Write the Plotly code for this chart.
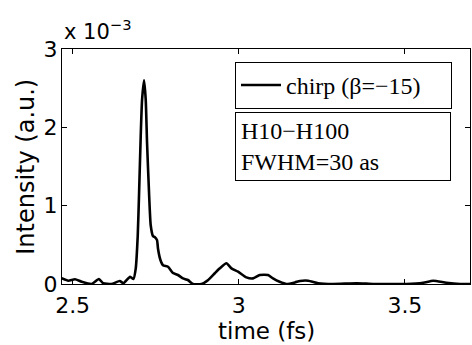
import plotly.graph_objects as go

# time axis (fs)
time_fs = [2.467, 2.487, 2.507, 2.527, 2.557, 2.579, 2.592, 2.617, 2.642, 2.653,
           2.673, 2.683, 2.690, 2.696, 2.700, 2.705, 2.709, 2.715, 2.720, 2.724,
           2.730, 2.735, 2.742, 2.747, 2.754, 2.757, 2.764, 2.772, 2.787, 2.802,
           2.817, 2.832, 2.847, 2.862, 2.888, 2.908, 2.928, 2.943, 2.963, 2.978,
           2.998, 3.023, 3.043, 3.063, 3.088, 3.103, 3.123, 3.144, 3.169, 3.184,
           3.209, 3.239, 3.284, 3.355, 3.405, 3.455, 3.505, 3.555, 3.585, 3.625,
           3.666, 3.696]
# intensity in units of 1e-3 (a.u.)
intensity_e3 = [0.073, 0.042, 0.060, 0.029, 0.000, 0.064, 0.010, 0.000, 0.038, 0.010,
                0.093, 0.064, 0.200, 0.620, 1.160, 1.900, 2.350, 2.600, 2.350, 1.800,
                1.160, 0.750, 0.610, 0.600, 0.560, 0.450, 0.310, 0.240, 0.220, 0.140,
                0.115, 0.072, 0.051, 0.000, 0.000, 0.051, 0.137, 0.200, 0.264, 0.200,
                0.157, 0.085, 0.072, 0.115, 0.115, 0.072, 0.029, 0.000, 0.020, 0.038,
                0.042, 0.010, 0.000, 0.010, 0.000, 0.000, 0.000, 0.016, 0.042, 0.016,
                0.000, 0.000]

x_ticks = [2.5, 3, 3.5]
x_tick_labels = ["2.5", "3", "3.5"]
y_ticks = [0, 1, 2, 3]
y_tick_labels = ["0", "1", "2", "3"]

series_name = "chirp (\u03b2=\u221215)"
info_text = "H10\u2212H100<br>FWHM=30 as"
x_title = "time (fs)"
y_title = "Intensity (a.u.)"
exponent_text = "x 10<sup>\u22123</sup>"

SANS = "DejaVu Sans, Arial, sans-serif"
SERIF = "Liberation Serif, Times New Roman, serif"

fig = go.Figure()
fig.add_trace(go.Scatter(
    x=time_fs, y=intensity_e3, mode="lines", name=series_name,
    line=dict(color="black", width=2.6, shape="spline", smoothing=0.5),
))

axis_common = dict(
    showline=True, linecolor="black", linewidth=1, mirror="ticks",
    ticks="inside", ticklen=5, tickcolor="black", tickwidth=1,
    showgrid=False, zeroline=False, automargin=False,
    tickfont=dict(family=SANS, size=22, color="black"),
)

fig.update_layout(
    width=472, height=345,
    margin=dict(l=62, r=2, t=49, b=61),
    paper_bgcolor="white", plot_bgcolor="white",
    xaxis=dict(range=[2.468, 3.696], tickvals=x_ticks, ticktext=x_tick_labels,
               ticklabelstandoff=2, **axis_common),
    yaxis=dict(range=[0, 3], tickvals=y_ticks, ticktext=y_tick_labels,
               ticklabelstandoff=-1, **axis_common),
    showlegend=True,
    legend=dict(x=0.424, y=0.945, xanchor="left", yanchor="top",
                orientation="h", entrywidth=160, entrywidthmode="pixels",
                bordercolor="black", borderwidth=1, bgcolor="white",
                font=dict(family=SERIF, size=24, color="black"),
                itemwidth=40),
    annotations=[
        dict(text=exponent_text, xref="paper", yref="paper",
             x=0.0, y=1.0, xanchor="left", yanchor="bottom", showarrow=False,
             font=dict(family=SANS, size=21, color="black"), yshift=3),
        dict(text=x_title, xref="paper", yref="paper",
             x=0.5, y=-0.2, xanchor="center", yanchor="middle", showarrow=False,
             font=dict(family=SANS, size=23, color="black")),
        dict(text=y_title, xref="paper", yref="paper", textangle=-90,
             x=-0.09, y=0.5, xanchor="center", yanchor="middle", showarrow=False,
             font=dict(family=SANS, size=24, color="black")),
        dict(text=info_text, xref="paper", yref="paper",
             x=0.424, y=0.732, xanchor="left", yanchor="top", showarrow=False,
             align="left", width=204, height=57, valign="middle",
             bordercolor="black", borderwidth=1, bgcolor="white", borderpad=5,
             font=dict(family=SERIF, size=24, color="black")),
    ],
)

fig.write_html("out.html",
               config={"displayModeBar": False},
               post_script="document.body.style.margin='0';document.body.style.overflow='hidden';")
